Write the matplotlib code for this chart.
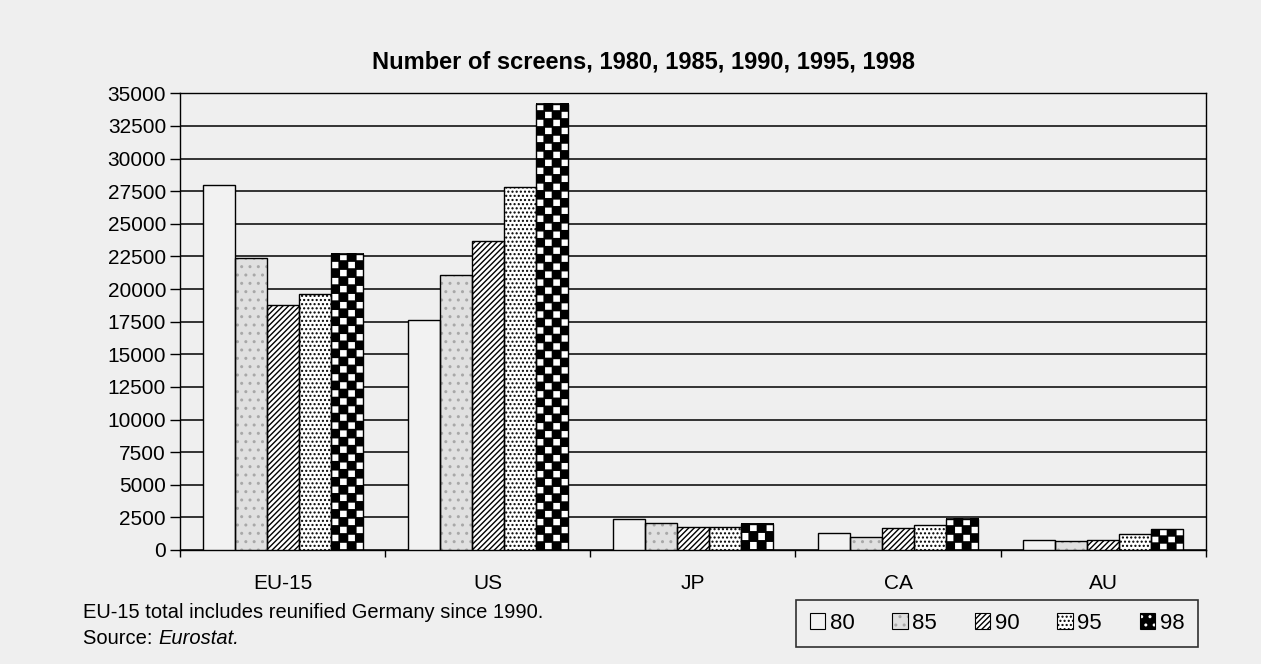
import numpy as np
import matplotlib.pyplot as plt
from matplotlib.patches import Patch

plt.rcParams['font.family'] = ['Liberation Sans', 'DejaVu Sans']
plt.rcParams['hatch.linewidth'] = 1.0

# data
regions = ['EU-15', 'US', 'JP', 'CA', 'AU']
years = ['80', '85', '90', '95', '98']
screens_80 = [28000, 17600, 2400, 1300, 800]
screens_85 = [22400, 21100, 2100, 1000, 700]
screens_90 = [18800, 23700, 1800, 1700, 800]
screens_95 = [19600, 27800, 1800, 1900, 1200]
screens_98 = [22700, 34200, 2000, 2400, 1600]
series = [screens_80, screens_85, screens_90, screens_95, screens_98]

# (face, hatch, hatch colour) per year
styles = [
    ('#f2f2f2', '', '#f2f2f2'),
    ('#e0e0e0', '..', '#a8a8a8'),
    ('white', '//////', 'black'),
    ('white', '....', 'black'),
    ('black', '', 'black'),
]

bg = '#efefef'
fig = plt.figure(figsize=(12.61, 6.64), dpi=100, facecolor=bg)
ax = fig.add_axes([0.1427, 0.1717, 0.8135, 0.6878])
ax.set_facecolor(bg)

x = np.arange(len(regions))
w = 0.156
ax.set_xlim(-0.5, len(regions) - 0.5)
ax.set_ylim(0, 35000)

# one checker cell: white square with a thin black margin
up = 10
cell_w = np.zeros((up, up))
cell_w[1:up - 1, 1:up - 1] = 1
cell_b = np.zeros((up, up))

for i, vals in enumerate(series):
    fc, hatch, hc = styles[i]
    pos = x + (i - 2) * w
    bars = ax.bar(pos, vals, w, color=fc, hatch=hatch, edgecolor=hc,
                  linewidth=0, zorder=3)
    if years[i] == '98':
        # checkerboard texture for the 1998 bars
        for b in bars:
            x0, bw, h = b.get_x(), b.get_width(), b.get_height()
            px_w = ax.transData.transform((x0 + bw, 0))[0] - ax.transData.transform((x0, 0))[0]
            px_h = ax.transData.transform((0, h))[1] - ax.transData.transform((0, 0))[1]
            ncol = 4
            nr = max(1, int(round(px_h / (px_w / ncol))))
            rows = []
            for r in range(nr):
                rows.append(np.hstack([cell_w if (r + c) % 2 else cell_b for c in range(ncol)]))
            chk = np.vstack(rows)
            ax.imshow(chk, cmap='gray', extent=(x0, x0 + bw, 0, h), origin='lower',
                      interpolation='antialiased', aspect='auto', zorder=3.5)
    ax.bar(pos, vals, w, fill=False, edgecolor='black', linewidth=1, zorder=4)

ax.set_xlim(-0.5, len(regions) - 0.5)
ax.set_ylim(0, 35000)

ax.set_yticks(np.arange(0, 35001, 2500))
ax.yaxis.grid(True, color='black', linewidth=1.1)
ax.set_axisbelow(True)
ax.tick_params(axis='y', labelsize=15, length=7, width=1, direction='out', pad=3)

ax.set_xticks(np.arange(-0.5, len(regions), 1))
ax.set_xticklabels([])
ax.set_xticks(x, minor=True)
ax.set_xticklabels(regions, minor=True)
ax.tick_params(axis='x', which='major', length=5, width=1, direction='out')
ax.tick_params(axis='x', which='minor', length=0, labelsize=15, pad=17)

for s in ax.spines.values():
    s.set_color('black')
    s.set_linewidth(1)

fig.text(0.51, 0.906, 'Number of screens, 1980, 1985, 1990, 1995, 1998',
         ha='center', va='center', fontsize=17, fontweight='bold')

fig.text(0.066, 0.078, 'EU-15 total includes reunified Germany since 1990.',
         ha='left', va='center', fontsize=14.5)
t2 = fig.text(0.066, 0.038, 'Source: ', ha='left', va='center', fontsize=14.5)
ax.annotate('Eurostat.', xy=(1, 0), xycoords=t2, ha='left', va='bottom',
            fontsize=14.5, style='italic', annotation_clip=False)

handles = []
for i in range(len(years)):
    fc, hatch, hc = styles[i]
    if years[i] == '98':
        handles.append((Patch(facecolor='black', edgecolor='white', hatch='..', linewidth=0),
                        Patch(fill=False, edgecolor='black', linewidth=0.8)))
    else:
        handles.append((Patch(facecolor=fc, edgecolor=hc, hatch=hatch, linewidth=0),
                        Patch(fill=False, edgecolor='black', linewidth=0.8)))
leg = fig.legend(handles, years, ncol=5, loc='center',
                 bbox_to_anchor=(0.7906, 0.061), bbox_transform=fig.transFigure,
                 fontsize=16, handlelength=0.7, handleheight=0.7, handletextpad=0.2,
                 columnspacing=1.7, frameon=True, fancybox=False, borderpad=0.6)
leg.get_frame().set_edgecolor('black')
leg.get_frame().set_linewidth(1.2)
leg.get_frame().set_facecolor(bg)

fig.savefig('out.png', dpi=100, facecolor=bg)
